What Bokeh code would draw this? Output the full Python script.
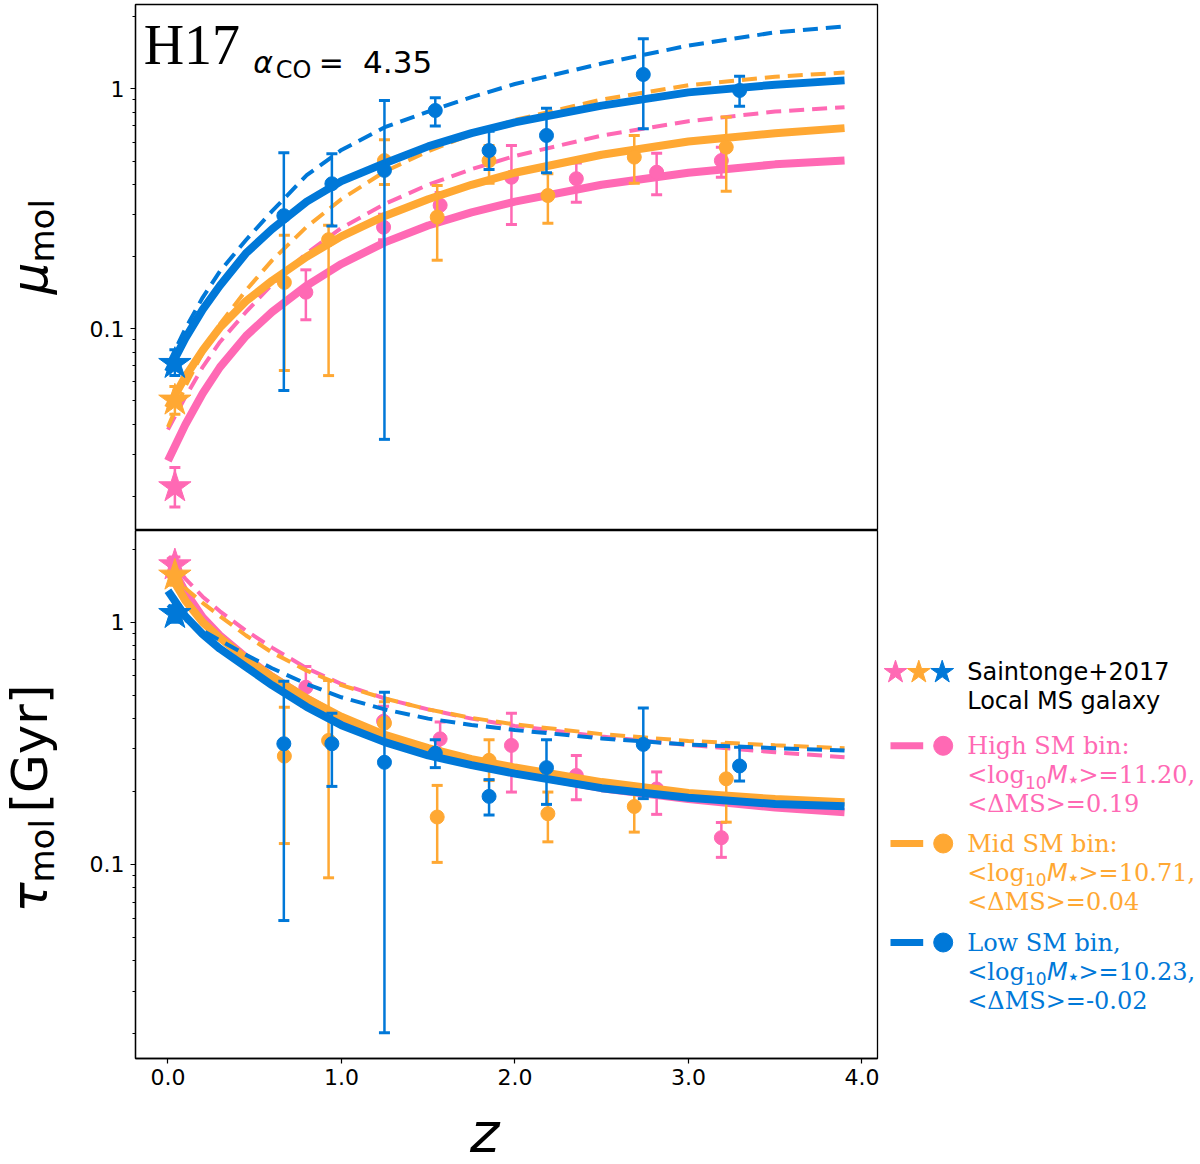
import numpy as np
from bokeh.plotting import figure
from bokeh.layouts import row, column
from bokeh.models import Range1d, FixedTicker, NumeralTickFormatter
from bokeh.core.properties import value
from bokeh.embed import file_html
from bokeh.resources import INLINE

PINK = "#ff69b4"
ORANGE = "#ffa833"
BLUE = "#0078d8"

# redshift grid of the model curves
z_fit = [0.0, 0.1, 0.2, 0.3, 0.45, 0.6, 0.8, 1.0, 1.25, 1.5, 1.75, 2.0, 2.5, 3.0, 3.5, 3.9]

# mu_mol curves: solid = H17 scaling, dashed = other relation
mu_high_fit = [0.0282, 0.0398, 0.0537, 0.0692, 0.0933, 0.1175, 0.1514, 0.1862, 0.2291, 0.2692, 0.3055, 0.3388, 0.3981, 0.4467, 0.4842, 0.5023]
mu_high_dash = [0.0380, 0.0519, 0.0692, 0.0881, 0.1175, 0.1531, 0.2065, 0.2630, 0.3311, 0.3981, 0.4624, 0.5248, 0.6383, 0.7328, 0.8035, 0.8375]
mu_mid_fit = [0.0468, 0.0631, 0.0813, 0.1012, 0.1303, 0.1585, 0.1995, 0.2427, 0.2951, 0.3467, 0.3981, 0.4467, 0.5309, 0.6026, 0.6531, 0.6855]
mu_mid_dash = [0.0389, 0.0575, 0.0794, 0.1047, 0.1445, 0.1928, 0.2661, 0.3467, 0.4519, 0.5495, 0.6457, 0.7413, 0.9016, 1.035, 1.122, 1.169]
mu_low_fit = [0.0661, 0.0912, 0.1202, 0.1514, 0.2065, 0.2600, 0.3388, 0.4121, 0.4898, 0.5754, 0.6531, 0.7244, 0.8511, 0.9661, 1.040, 1.084]
mu_low_dash = [0.0708, 0.1000, 0.1349, 0.1738, 0.2344, 0.3090, 0.4365, 0.5559, 0.6918, 0.8035, 0.9226, 1.047, 1.274, 1.514, 1.718, 1.820]

# tau_mol curves [Gyr]
tau_high_fit = [1.820, 1.334, 1.047, 0.8810, 0.7161, 0.5957, 0.4842, 0.4027, 0.3350, 0.2917, 0.2630, 0.2399, 0.2065, 0.1862, 0.1718, 0.1644]
tau_high_dash = [1.862, 1.514, 1.274, 1.109, 0.9226, 0.7852, 0.6457, 0.5559, 0.4842, 0.4365, 0.3999, 0.3733, 0.3373, 0.3112, 0.2904, 0.2773]
tau_mid_fit = [1.622, 1.230, 1.000, 0.8610, 0.7079, 0.5957, 0.4842, 0.4074, 0.3428, 0.3020, 0.2723, 0.2512, 0.2188, 0.1972, 0.1862, 0.1807]
tau_mid_dash = [1.622, 1.380, 1.202, 1.059, 0.8810, 0.7499, 0.6310, 0.5495, 0.4842, 0.4365, 0.4027, 0.3784, 0.3451, 0.3236, 0.3105, 0.3020]
tau_low_fit = [1.349, 1.059, 0.8913, 0.7762, 0.6531, 0.5495, 0.4467, 0.3758, 0.3199, 0.2818, 0.2570, 0.2371, 0.2065, 0.1884, 0.1778, 0.1738]
tau_low_dash = [1.175, 1.023, 0.9226, 0.8414, 0.7328, 0.6457, 0.5559, 0.4898, 0.4365, 0.3999, 0.3767, 0.3589, 0.3311, 0.3126, 0.3020, 0.2951]

# stacked measurements
z_high = [0.795, 1.243, 1.569, 1.980, 2.354, 2.817, 3.190]
mu_high = [0.142, 0.265, 0.327, 0.428, 0.422, 0.449, 0.502]
mu_high_lo = [0.109, 0.235, 0.290, 0.272, 0.337, 0.362, 0.428]
mu_high_hi = [0.176, 0.300, 0.370, 0.580, 0.490, 0.539, 0.571]
tau_high = [0.539, 0.390, 0.330, 0.310, 0.233, 0.205, 0.129]
tau_high_lo = [0.450, 0.340, 0.277, 0.199, 0.185, 0.161, 0.107]
tau_high_hi = [0.656, 0.450, 0.387, 0.421, 0.282, 0.241, 0.149]

z_mid = [0.671, 0.926, 1.248, 1.552, 1.851, 2.190, 2.688, 3.218]
mu_mid = [0.156, 0.235, 0.502, 0.292, 0.502, 0.359, 0.519, 0.571]
mu_mid_lo = [0.067, 0.0638, 0.399, 0.193, 0.404, 0.275, 0.404, 0.374]
mu_mid_hi = [0.245, 0.270, 0.613, 0.395, 0.580, 0.442, 0.639, 0.762]
tau_mid = [0.280, 0.325, 0.383, 0.157, 0.269, 0.162, 0.1735, 0.2257]
tau_mid_lo = [0.122, 0.0881, 0.330, 0.102, 0.222, 0.124, 0.136, 0.1495]
tau_mid_hi = [0.446, 0.574, 0.470, 0.212, 0.327, 0.199, 0.208, 0.315]

z_low = [0.668, 0.945, 1.248, 1.541, 1.851, 2.182, 2.740, 3.295]
mu_low = [0.296, 0.402, 0.457, 0.812, 0.553, 0.639, 1.147, 0.984]
mu_low_lo = [0.0553, 0.268, 0.0346, 0.699, 0.461, 0.447, 0.681, 0.846]
mu_low_hi = [0.541, 0.536, 0.894, 0.917, 0.666, 0.830, 1.615, 1.128]
tau_low = [0.315, 0.315, 0.264, 0.288, 0.191, 0.251, 0.313, 0.255]
tau_low_lo = [0.0587, 0.210, 0.0202, 0.251, 0.160, 0.177, 0.187, 0.221]
tau_low_hi = [0.571, 0.421, 0.514, 0.327, 0.224, 0.327, 0.442, 0.305]

# Saintonge+2017 local values (high, mid, low)
star_z = [0.04, 0.04, 0.04]
star_mu = [0.0219, 0.0503, 0.0715]
star_mu_lo = [0.0181, 0.0440, 0.0638]
star_mu_hi = [0.0264, 0.0575, 0.0818]
star_tau = [1.72, 1.56, 1.083]
star_tau_lo = [1.58, 1.42, 1.00]
star_tau_hi = [1.86, 1.70, 1.17]
star_colors = [PINK, ORANGE, BLUE]

bin_names = ["High SM bin:", "Mid SM bin:", "Low SM bin,"]
bin_logm = ["11.20", "10.71", "10.23"]
bin_dms = ["0.19", "0.04", "-0.02"]

X_RANGE = Range1d(-0.187, 4.09)
DECADE = 240.0   # px per decade in the top panel
SHIFT = 0.33     # the svg text sits this many em below its alphabetic anchor


def panel(height, y0, y1, top_border, bottom_border, show_x):
    p = figure(width=816, height=height, x_range=X_RANGE,
               y_range=Range1d(y0, y1), y_axis_type="log",
               x_axis_location="below" if show_x else None,
               tools="", toolbar_location=None, output_backend="svg",
               min_border_left=71, min_border_right=3,
               min_border_top=top_border, min_border_bottom=bottom_border)
    p.grid.visible = False
    p.outline_line_color = "black"
    p.outline_line_width = 1.3

    minors = [k * 10.0 ** e for e in (-2, -1) for k in range(2, 10)] + [2.0]
    ya = p.yaxis[0]
    ya.ticker = FixedTicker(ticks=[0.1, 1.0], minor_ticks=minors)
    ya.formatter = NumeralTickFormatter(format="0.[0]")
    ya.major_tick_out = 5
    ya.major_tick_in = 0
    ya.minor_tick_out = 3
    ya.minor_tick_in = 0
    ya.major_tick_line_width = 1.2
    ya.minor_tick_line_width = 1.0
    ya.major_label_text_font = "DejaVu Sans"
    ya.major_label_text_font_size = "22px"
    ya.major_label_text_color = "black"
    ya.major_label_standoff = 6
    ya.axis_line_width = 1.3

    if show_x:
        xa = p.xaxis[0]
        xa.ticker = FixedTicker(ticks=[0, 1, 2, 3, 4])
        xa.formatter = NumeralTickFormatter(format="0.0")
        xa.major_tick_out = 5
        xa.major_tick_in = 0
        xa.major_tick_line_width = 1.2
        xa.major_label_text_font = "DejaVu Sans"
        xa.major_label_text_font_size = "22px"
        xa.major_label_text_color = "black"
        xa.major_label_standoff = 5
        xa.axis_line_width = 1.3
    return p


def bare(width, height, xr, yr, left=0, right=0):
    f = figure(width=width, height=height, x_range=xr, y_range=yr,
               x_axis_location=None, y_axis_location=None, tools="",
               toolbar_location=None, output_backend="svg",
               min_border=0, min_border_left=left, min_border_right=right,
               outline_line_color=None)
    f.grid.visible = False
    return f


def draw_bin(p, z, y, lo, hi, fit, dash, color):
    p.line(z_fit, fit, line_color=color, line_width=8)
    p.line(z_fit, dash, line_color=color, line_width=4, line_dash="15 8")
    p.segment(x0=z, y0=lo, x1=z, y1=hi, line_color=color, line_width=2.5)
    p.scatter(z + z, lo + hi, marker="dash", size=11, line_color=color, line_width=3)
    p.scatter(z, y, size=14, fill_color=color, line_color=color)


def draw_stars(p, y, lo, hi):
    p.segment(x0=star_z, y0=lo, x1=star_z, y1=hi, line_color=star_colors, line_width=2.5)
    p.scatter(star_z + star_z, lo + hi, marker="dash", size=11,
              line_color=star_colors + star_colors, line_width=3)
    p.scatter(star_z, y, marker="star", size=34, fill_color=star_colors, line_color=star_colors)


def txt(f, x, y, s, size, font="DejaVu Sans", style="normal", color="black", **kw):
    f.text(x if isinstance(x, list) else [x], y if isinstance(y, list) else [y],
           s if isinstance(s, list) else [s], text_font=value(font), text_font_style=style,
           text_font_size="%dpx" % size, text_color=color, text_baseline="alphabetic", **kw)


def log_lift(y, size):
    # move a baseline up on a log axis by the svg text shift
    return y * 10 ** (SHIFT * size / DECADE)


# ---- top panel: mu_mol
p1 = panel(530, 0.01443, 2.245, 4, 0, False)
draw_bin(p1, z_high, mu_high, mu_high_lo, mu_high_hi, mu_high_fit, mu_high_dash, PINK)
draw_bin(p1, z_mid, mu_mid, mu_mid_lo, mu_mid_hi, mu_mid_fit, mu_mid_dash, ORANGE)
draw_bin(p1, z_low, mu_low, mu_low_lo, mu_low_hi, mu_low_fit, mu_low_dash, BLUE)
draw_stars(p1, star_mu, star_mu_lo, star_mu_hi)

# panel tag  H17_{alpha_CO = 4.35}
txt(p1, -0.14, log_lift(1.275, 56), "H17", 56, font="Liberation Serif")
txt(p1, 0.492, log_lift(1.173, 30), "α", 30, style="italic")
txt(p1, 0.621, log_lift(1.114, 24), "CO", 24)
txt(p1, 0.870, log_lift(1.173, 30), "=", 30)
txt(p1, 1.125, log_lift(1.173, 31), "4.35", 31)

# ---- bottom panel: tau_mol
p2 = panel(564, 0.01582, 2.39, 0, 36, True)
draw_bin(p2, z_high, tau_high, tau_high_lo, tau_high_hi, tau_high_fit, tau_high_dash, PINK)
draw_bin(p2, z_mid, tau_mid, tau_mid_lo, tau_mid_hi, tau_mid_fit, tau_mid_dash, ORANGE)
draw_bin(p2, z_low, tau_low, tau_low_lo, tau_low_hi, tau_low_fit, tau_low_dash, BLUE)
draw_stars(p2, star_tau, star_tau_lo, star_tau_hi)

# ---- x-axis title strip (y in page pixels, flipped)
zf = bare(816, 70, X_RANGE, Range1d(1164, 1094), left=71, right=3)
txt(zf, 1.826, 1150 - SHIFT * 56, "z", 56, style="italic", text_align="center")

# ---- y-axis titles strip (x = baseline position, y measured upward from page bottom)
yl = bare(64, 1164, Range1d(0, 64), Range1d(0, 1164))
rot = np.pi / 2
txt(yl, 46 - SHIFT * 50, 902, "μ", 50, style="italic", angle=rot, text_align="right")
txt(yl, 53 - SHIFT * 34, 902, "mol", 34, angle=rot, text_align="left")
txt(yl, 46 - SHIFT * 50, 282, "τ", 50, style="italic", angle=rot, text_align="right")
txt(yl, 53 - SHIFT * 34, 282, "mol", 34, angle=rot, text_align="left")
txt(yl, 46 - SHIFT * 50, 352, "[Gyr]", 50, angle=rot, text_align="left")

# ---- legend column (coordinates = page pixels, flipped)
leg = bare(320, 1164, Range1d(880, 1200), Range1d(1164, 0))

leg.scatter([895, 918.3, 941.7], [671.7] * 3, marker="star", size=24,
            fill_color=star_colors, line_color=star_colors)
txt(leg, [966.7, 966.7], [679.3 - SHIFT * 24, 708.3 - SHIFT * 24],
    ["Saintonge+2017", "Local MS galaxy"], 24)

base = [753.3, 851.0, 950.0]
sw_y = [b - 8 for b in base]
leg.segment(x0=[890] * 3, y0=sw_y, x1=[922.7] * 3, y1=sw_y, line_color=star_colors, line_width=7)
leg.scatter([942.7] * 3, sw_y, size=19, fill_color=star_colors, line_color=star_colors)

line2 = [b + 29 for b in base]
line3 = [b + 58 for b in base]
txt(leg, [966.7] * 3, [b - SHIFT * 24 for b in base], bin_names, 24, font="DejaVu Serif", color=star_colors)
txt(leg, [966.7] * 3, [b - SHIFT * 24 for b in line2], ["<log"] * 3, 24, font="DejaVu Serif", color=star_colors)
txt(leg, [1024.5] * 3, [b + 5 - SHIFT * 17 for b in line2], ["10"] * 3, 17, color=star_colors)
txt(leg, [1046.5] * 3, [b - SHIFT * 24 for b in line2], ["M"] * 3, 24, style="italic", color=star_colors)
txt(leg, [1066.0] * 3, [b + 4 - SHIFT * 22 for b in line2], ["⋆"] * 3, 22, color=star_colors)
txt(leg, [1078.0] * 3, [b - SHIFT * 24 for b in line2], [">=" + m + "," for m in bin_logm], 24,
    font="DejaVu Serif", color=star_colors)
txt(leg, [966.7] * 3, [b - SHIFT * 24 for b in line3], ["<ΔMS>=" + d for d in bin_dms], 24,
    font="DejaVu Serif", color=star_colors)

layout = row(yl, column(p1, p2, zf), leg)
open("out.html", "w").write(file_html(layout, INLINE, title="H17 mu_mol tau_mol"))
